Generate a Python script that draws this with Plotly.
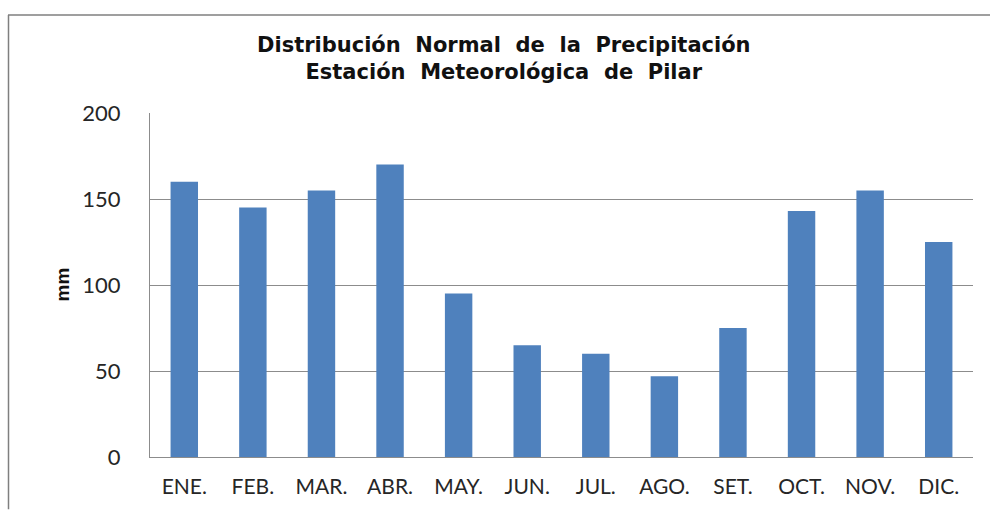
import plotly.graph_objects as go

months = ["ENE.", "FEB.", "MAR.", "ABR.", "MAY.", "JUN.", "JUL.", "AGO.", "SET.", "OCT.", "NOV.", "DIC."]
precip_mm = [160, 145, 155, 170, 95, 65, 60, 47, 75, 143, 155, 125]
y_ticks = [0, 50, 100, 150, 200]

W, H = 990, 510
L, R, T, B = 150, 17, 113, 48
pw, ph = W - L - R, H - T - B

fig = go.Figure(go.Bar(x=months, y=precip_mm, marker=dict(color="#4F81BD", line=dict(width=0))))

fig.update_layout(
    width=W, height=H,
    margin=dict(l=L, r=R, t=T, b=B),
    paper_bgcolor="white", plot_bgcolor="white",
    bargap=0.6,
    showlegend=False,
    font=dict(family="Lato, Liberation Sans, sans-serif", color="#262626"),
)
fig.update_xaxes(
    showgrid=False, showline=True, linecolor="#8c8c8c", linewidth=1,
    ticks="", tickfont=dict(size=21, color="#262626", family="Lato"),
    ticklabelstandoff=11,
)
fig.update_yaxes(
    range=[0, 200], tickvals=y_ticks, showgrid=True, gridcolor="#8c8c8c", gridwidth=1,
    showline=True, linecolor="#8c8c8c", linewidth=1, zeroline=False,
    ticks="", tickfont=dict(size=22, color="#262626", family="Lato"),
    ticklabelstandoff=24,
)

# title
fig.add_annotation(
    text="<b>Distribución&nbsp; Normal&nbsp; de&nbsp; la&nbsp; Precipitación<br>Estación&nbsp; Meteorológica&nbsp; de&nbsp; Pilar</b>",
    xref="paper", yref="paper", x=(504 - L) / pw, y=(H - B - 58) / ph,
    xanchor="center", yanchor="middle", showarrow=False,
    font=dict(family="DejaVu Sans, Liberation Sans, sans-serif", size=21, color="#111111"),
    align="center",
)
# y axis title
fig.add_annotation(
    text="<b>mm</b>", textangle=-90,
    xref="paper", yref="paper", x=(63 - L) / pw, y=(H - B - 287) / ph,
    xanchor="center", yanchor="middle", showarrow=False,
    font=dict(family="Liberation Sans, Arial, sans-serif", size=19, color="#111111"),
)
# outer chart border (top and left visible)
fig.add_shape(type="line", xref="paper", yref="paper",
              x0=(8 - L) / pw, x1=(995 - L) / pw, y0=(H - B - 13.5) / ph, y1=(H - B - 13.5) / ph,
              line=dict(color="#7f7f7f", width=1.5))
fig.add_shape(type="line", xref="paper", yref="paper",
              x0=(8.5 - L) / pw, x1=(8.5 - L) / pw, y0=(H - B - 13.5) / ph, y1=(H - B - 515) / ph,
              line=dict(color="#7f7f7f", width=1.5))

fig.write_html("out.html", config={"displayModeBar": False},
               post_script="document.body.style.margin='0';document.body.style.overflow='hidden';")
